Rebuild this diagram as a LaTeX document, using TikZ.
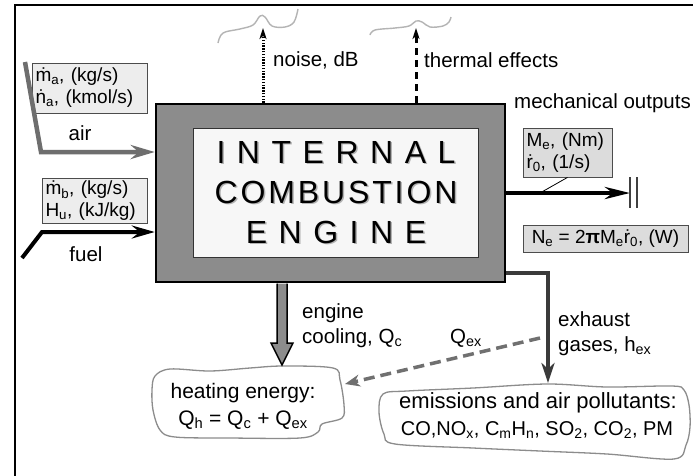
\documentclass[tikz,border=0pt]{standalone}
\usepackage{fontspec}
\setmainfont{Liberation Sans}
\newfontfamily\spacedfont[LetterSpace=36]{Liberation Sans}
\newfontfamily\tightfont[LetterSpace=9]{Liberation Sans}
\usetikzlibrary{arrows.meta}
\definecolor{airgray}{HTML}{6E6E6E}
\definecolor{exgray}{HTML}{3A3A3A}
\definecolor{dashgray}{HTML}{707070}
\definecolor{squiggray}{HTML}{B4B4B4}
\definecolor{engfill}{HTML}{8C8C8C}
\definecolor{boxfill}{HTML}{EDEDED}
\definecolor{mechfill}{HTML}{DCDCDC}
\tikzset{
  lbl/.style={font=\fontsize{20.5}{24}\selectfont, inner sep=0pt, anchor=west},
  qbox/.style={draw=black!70, line width=0.8pt, fill=boxfill, align=left,
     font=\fontsize{19}{22}\selectfont, inner xsep=3pt, inner ysep=2pt},
  squig/.style={draw=squiggray, line width=1.4pt},
  airarr/.style={draw=airgray, line width=4.5pt, miter limit=20,
     -{Stealth[length=24pt,width=14pt,inset=8pt]}},
  fuelarr/.style={draw=black, line width=4pt, miter limit=20,
     -{Stealth[length=23pt,width=13pt,inset=8pt]}},
  shaftarr/.style={draw=black, line width=4.5pt,
     -{Stealth[length=25pt,width=12pt,inset=8pt]}},
  exarr/.style={draw=exgray, line width=3.5pt, miter limit=20,
     -{Stealth[length=20pt,width=13pt,inset=6pt]}},
  dasharr/.style={draw=dashgray, line width=3.5pt, dash pattern=on 11pt off 6pt,
     -{Stealth[length=15pt,width=12pt,inset=5pt]}},
  noisearr/.style={draw=black, line width=3pt, dash pattern=on 1.4pt off 1.4pt,
     -{Stealth[length=11pt,width=7pt,inset=3pt]}},
  thermarr/.style={draw=black, line width=3pt, dash pattern=on 7pt off 5pt,
     -{Stealth[length=11pt,width=7pt,inset=3pt]}},
  barline/.style={draw=black!75, line width=1.2pt},
  cloud/.style={draw=black!45, line width=1.3pt, fill=white},
  fatarr/.style={draw=black, line width=1.5pt, fill=engfill, line join=miter},
  titlefont/.style={font=\fontsize{32}{40}\selectfont, align=center, inner sep=0pt}
}
\begin{document}
\begin{tikzpicture}[x=1pt,y=-1pt]
\useasboundingbox (0,0) rectangle (693,475);
\fill[white] (0,0) rectangle (693,475);
% frame
\draw[line width=2pt] (15,480) -- (15,5) -- (700,5);

% engine
\node[draw=black, line width=2.5pt, fill=engfill, minimum width=349pt, minimum height=178pt] (eng) at (330.5,193) {};
\node[draw=black!80, line width=1pt, fill=black!3, minimum width=285pt, minimum height=129pt] (inner) at (335.5,192.5) {};
\node[titlefont, text=black!30] (titleshadow) at (337.5,194) {{\spacedfont INTERNAL}\\{\tightfont COMBUSTION}\\{\spacedfont ENGINE}};
\node[titlefont] (title) at (336,192.5) {{\spacedfont INTERNAL}\\{\tightfont COMBUSTION}\\{\spacedfont ENGINE}};

% squiggles
\draw[squig] plot[smooth, tension=0.6] coordinates {(218,43) (223,33) (240,29) (253,25) (260,16) (265,17) (272,26) (285,27) (294,22) (298,9)};
\draw[squig] plot[smooth, tension=0.6] coordinates {(370,35) (375,30) (395,28) (409,26) (416,21) (422,22) (430,27) (443,26) (449,22) (451,17)};

% top arrows
\coordinate (noiseTip) at (263,28);
\coordinate (thermTip) at (416,28);
\draw[noisearr] (eng.north -| noiseTip) -- (noiseTip);
\draw[thermarr] (eng.north -| thermTip) -- (thermTip);
\node[lbl] (noiseL) at (273,60) {noise, dB};
\node[lbl] (thermL) at (424,60) {thermal effects};
\node[lbl] (mechL) at (514,103) {mechanical outputs};

% air
\node[qbox, minimum width=115pt, minimum height=50pt, text width=108pt] (airbox) at (89.5,88) {\.{m}\textsubscript{a}, (kg/s)\\\.{n}\textsubscript{a}, (kmol/s)};
\node[lbl, anchor=center] (airL) at (80,133) {air};
\coordinate (airS) at (25,62);
\coordinate (airB) at (41,152);
\draw[airarr] (airS) -- (airB) -- (airB -| eng.west);

% fuel
\node[qbox, minimum width=105pt, minimum height=45pt, text width=98pt] (fuelbox) at (94.5,200.5) {\.{m}\textsubscript{b}, (kg/s)\\H\textsubscript{u}, (kJ/kg)};
\node[lbl, anchor=center] (fuelL) at (86,254) {fuel};
\coordinate (fuelS) at (22,258);
\coordinate (fuelB) at (42,232);
\draw[fuelarr] (fuelS) -- (fuelB) -- (fuelB -| eng.west);

% mechanical
\node[qbox, fill=mechfill, minimum width=89pt, minimum height=49pt, text width=82pt] (mbox) at (567.5,152.5) {M\textsubscript{e}, (Nm)\\\.{r}\textsubscript{0}, (1/s)};
\node[qbox, fill=mechfill, minimum width=165pt, minimum height=27pt, align=center] (nebox) at (605.5,238.5) {N\textsubscript{e} = 2\textbf{π}M\textsubscript{e}\.{r}\textsubscript{0}, (W)};
\coordinate (shaftTip) at (630,193);
\draw[shaftarr] (eng.east |- shaftTip) -- (shaftTip);
\coordinate (callT) at (540,193);
\draw[line width=0.8pt] (mbox.south) -- (callT);
\draw[barline] (630,177) -- (630,208);
\draw[barline] (637,177) -- (637,208);

% clouds
\draw[cloud] plot[smooth cycle, tension=0.55] coordinates {(155,376) (170,369) (210,371) (250,368) (283,366) (333,368) (340,380) (344,405) (342,418) (322,424) (318,432) (300,438) (230,438) (175,437) (160,430) (153,410) (152,390)};
\node[font=\fontsize{21}{27}\selectfont, align=center, inner sep=0pt] (heat) at (243,406) {heating energy:\\Q\textsubscript{h} = Q\textsubscript{c} + Q\textsubscript{ex}};

\draw[cloud] plot[smooth cycle, tension=0.55] coordinates {(383,394) (407,391) (473,388) (547,384) (607,387) (672,386) (684,390) (689,405) (690,427) (686,445) (674,459) (607,454) (540,451) (473,448) (395,444) (384,434) (379,412)};
\node[font=\fontsize{22}{27}\selectfont, inner sep=0pt] (emis) at (538,403) {emissions and air pollutants:};
\node[font=\fontsize{20}{27}\selectfont, inner sep=0pt] (emis2) at (537,430) {CO,NO\textsubscript{x}, C\textsubscript{m}H\textsubscript{n}, SO\textsubscript{2}, CO\textsubscript{2}, PM};

% cooling
\draw[fatarr] (277,283.5) -- (277,343) -- (271,343) -- (282,365) -- (293,343) -- (287,343) -- (287,283.5);
\node[lbl, align=left, font=\fontsize{20.5}{25}\selectfont] (coolL) at (302,326) {engine\\cooling, Q\textsubscript{c}};

% exhaust
\coordinate (exB) at (548,273);
\coordinate (exTip) at (548,383);
\draw[exarr] (eng.east |- exB) -- (exB) -- (exTip);
\node[lbl, align=left, font=\fontsize{20.5}{25}\selectfont] (exL) at (558,334) {exhaust\\gases, h\textsubscript{ex}};

% dashed Qex
\coordinate (dS) at (540,338);
\coordinate (dT) at (345,384);
\draw[dasharr] (dS) -- (dT);
\node[lbl] (qexL) at (450,338) {Q\textsubscript{ex}};
\end{tikzpicture}
\end{document}
